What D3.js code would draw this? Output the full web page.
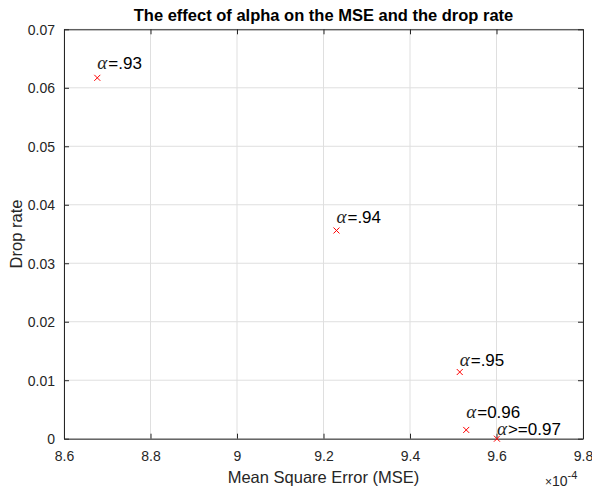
<!DOCTYPE html>
<html><head><meta charset="utf-8">
<script src="https://cdn.jsdelivr.net/npm/d3@7"></script>
<style>body{margin:0;background:#fff}svg{display:block}text{font-family:"Liberation Sans",Arial,sans-serif}</style>
</head><body>
<svg id="c" width="592" height="489"></svg>
<script>
const mse = [8.677, 9.230, 9.515, 9.530, 9.601];          // ×10^-4
const dropRate = [0.0617, 0.0356, 0.0114, 0.0015, 0.0000];
const labels = ["=.93", "=.94", "=.95", "=0.96", ">=0.97"];
const labelY = [0.0642, 0.0379, 0.01345, 0.00456, 0.00169];
const xTicks = [8.6, 8.8, 9, 9.2, 9.4, 9.6, 9.8];
const yTicks = [0, 0.01, 0.02, 0.03, 0.04, 0.05, 0.06, 0.07];

const svg = d3.select("#c");
const L = 64, R = 583, T = 29.3, B = 438.7;
const x = d3.scaleLinear().domain([8.6, 9.8]).range([L, R]);
const y = d3.scaleLinear().domain([0, 0.07]).range([B, T]);
const ink = "#262626";
const sans = '"Liberation Sans",Arial,sans-serif';

// grid
svg.append("g").selectAll("line").data(xTicks).join("line")
  .attr("x1", d => x(d)).attr("x2", d => x(d)).attr("y1", T).attr("y2", B)
  .attr("stroke", "#dfdfdf").attr("stroke-width", 1);
svg.append("g").selectAll("line").data(yTicks).join("line")
  .attr("y1", d => y(d)).attr("y2", d => y(d)).attr("x1", L).attr("x2", R)
  .attr("stroke", "#dfdfdf").attr("stroke-width", 1);

// axes
const fmtY = d => d === 0 ? "0" : d3.format(".2f")(d);
const fmtX = d => String(+d.toFixed(1));
const ax = svg.append("g").attr("transform", `translate(0,${B})`)
  .call(d3.axisBottom(x).tickValues(xTicks).tickSizeInner(-5).tickSizeOuter(0).tickPadding(12).tickFormat(fmtX));
const ay = svg.append("g").attr("transform", `translate(${L},0)`)
  .call(d3.axisLeft(y).tickValues(yTicks).tickSizeInner(-5).tickSizeOuter(0).tickPadding(9).tickFormat(fmtY));
const axT = svg.append("g").attr("transform", `translate(0,${T})`)
  .call(d3.axisTop(x).tickValues(xTicks).tickSizeInner(-5).tickSizeOuter(0).tickFormat(""));
const ayR = svg.append("g").attr("transform", `translate(${R},0)`)
  .call(d3.axisRight(y).tickValues(yTicks).tickSizeInner(-5).tickSizeOuter(0).tickFormat(""));
[ax, ay, axT, ayR].forEach(g => {
  g.select(".domain").attr("stroke", ink);
  g.selectAll(".tick line").attr("stroke", ink);
  g.selectAll("text").attr("fill", ink).attr("font-size", 14).attr("font-family", sans);
});
ay.selectAll("text").attr("dy", "0.36em");
ax.selectAll("text").attr("dy", "0.71em");

// markers
const g = svg.append("g");
const s = 3;
mse.forEach((m, i) => {
  const px = x(m), py = y(dropRate[i]);
  g.append("path").attr("d", `M${px-s},${py-s}L${px+s},${py+s}M${px-s},${py+s}L${px+s},${py-s}`)
    .attr("stroke", "#ff0000").attr("stroke-width", 1).attr("fill", "none");
  const t = g.append("text").attr("x", px).attr("y", y(labelY[i])).attr("dy", "0.36em")
    .attr("font-size", 17).attr("fill", "#000");
  t.append("tspan").attr("font-family", '"Liberation Serif","Times New Roman",serif')
    .attr("font-style", "italic").attr("font-size", 19).attr("fill", "#262626").text("α");
  t.append("tspan").attr("dx", 1).text(labels[i]);
});

// title & labels
svg.append("text").attr("x", (L + R) / 2).attr("y", 21).attr("text-anchor", "middle")
  .attr("font-weight", "bold").attr("font-size", 16.5).attr("fill", "#000")
  .text("The effect of alpha on the MSE and the drop rate");
svg.append("text").attr("x", (L + R) / 2).attr("y", 483).attr("text-anchor", "middle")
  .attr("font-size", 16.5).attr("fill", ink).text("Mean Square Error (MSE)");
svg.append("text").attr("transform", `translate(22,${(T + B) / 2}) rotate(-90)`)
  .attr("text-anchor", "middle").attr("font-size", 16.5).attr("fill", ink).text("Drop rate");
const ex = svg.append("text").attr("x", 545).attr("y", 486).attr("font-size", 14).attr("fill", ink);
ex.append("tspan").attr("font-size", 12).text("×");
ex.append("tspan").text("10");
ex.append("tspan").attr("font-size", 11).attr("dy", -7).text("-4");
</script>
</body></html>
